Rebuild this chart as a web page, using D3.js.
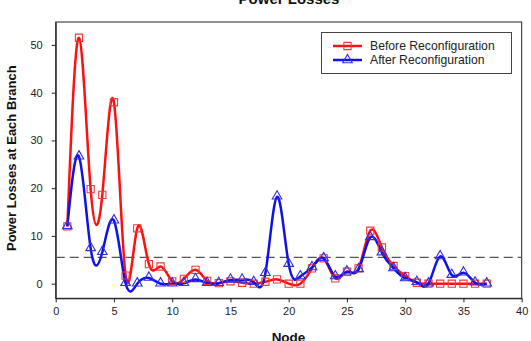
<!DOCTYPE html>
<html><head><meta charset="utf-8">
<script src="https://cdn.jsdelivr.net/npm/d3@7"></script>
<style>body{margin:0;background:#fff}svg{display:block}text{font-family:"Liberation Sans",Arial,sans-serif}</style>
</head><body>
<svg id="c" width="531" height="341"></svg>
<script>
const nodes = d3.range(1, 38);
const before = [12, 51.5, 19.8, 18.6, 38.0, 1.7, 11.6, 4.1, 3.6, 0.5,
  1.0, 2.9, 0.6, 0.1, 0.5, 0.2, 0.0, 0.4, 0.9, 0.0,
  0.0, 3.2, 5.3, 1.1, 2.5, 3.2, 11.1, 7.6, 3.7, 1.6,
  0.2, 0.0, 0.0, 0.0, 0.0, 0.0, 0.0];
const after = [12, 26.6, 7.4, 6.6, 13.2, 0.1, 0.0, 1.2, 0.0, 0.0,
  0.1, 0.9, 0.1, 0.1, 0.8, 0.8, 0.3, 2.2, 18.2, 4.1,
  1.5, 3.4, 5.3, 1.5, 2.5, 3.0, 9.7, 6.5, 3.2, 1.1,
  0.3, 0.0, 5.7, 1.8, 2.3, 0.2, 0.0];
const threshold = 5.5;
const xTicks = [0, 5, 10, 15, 20, 25, 30, 35, 40];
const yTicks = [0, 10, 20, 30, 40, 50];
const seriesNames = ["Before Reconfiguration", "After Reconfiguration"];

const svg = d3.select("#c");
const L = 55.7, R = 521.7, T = 22, B = 298.3;
const x = d3.scaleLinear().domain([0, 40]).range([L, R]);
const y = d3.scaleLinear().domain([-3.06, 54.8]).range([B, T]);

svg.append("defs").append("clipPath").attr("id", "clip")
  .append("rect").attr("x", L).attr("y", T).attr("width", R - L).attr("height", B - T);

svg.append("rect").attr("x", L).attr("y", T).attr("width", R - L).attr("height", B - T)
  .attr("fill", "none").attr("stroke", "#222").attr("stroke-width", 1);

const xa = svg.append("g").attr("transform", `translate(0,${B})`)
  .call(d3.axisBottom(x).tickValues(xTicks).tickSize(4).tickPadding(5).tickSizeOuter(0));
const ya = svg.append("g").attr("transform", `translate(${L},0)`)
  .call(d3.axisLeft(y).tickValues(yTicks).tickSize(4).tickPadding(9).tickSizeOuter(0));
[xa, ya].forEach(a => {
  a.select(".domain").attr("stroke", "#222");
  a.selectAll(".tick line").attr("stroke", "#222");
  a.selectAll(".tick text").attr("font-size", 11).attr("fill", "#222")
   .style("font-family", '"Liberation Sans",Arial,sans-serif');
});

svg.append("line").attr("x1", L).attr("x2", R).attr("y1", y(threshold)).attr("y2", y(threshold))
  .attr("stroke", "#555").attr("stroke-width", 1.3).attr("stroke-dasharray", "9,5");

const g = svg.append("g").attr("clip-path", "url(#clip)");
const line = d3.line().x((d, i) => x(nodes[i])).y(d => y(d)).curve(d3.curveNatural);

const red = "#ff1010", blue = "#1010e8";
g.append("path").datum(before).attr("d", line).attr("fill", "none").attr("stroke", red).attr("stroke-width", 2.5);
g.append("path").datum(after).attr("d", line).attr("fill", "none").attr("stroke", blue).attr("stroke-width", 2.5);

const sq = d3.symbol().type(d3.symbolSquare).size(52);
const tri = d3.symbol().type(d3.symbolTriangle).size(40);
g.selectAll(".sq").data(before).enter().append("path")
  .attr("d", sq).attr("transform", (d, i) => `translate(${x(nodes[i])},${y(d)})`)
  .attr("fill", "none").attr("stroke", "#f03a3a").attr("stroke-width", 1.1);
g.selectAll(".tr").data(after).enter().append("path")
  .attr("d", tri).attr("transform", (d, i) => `translate(${x(nodes[i])},${y(d) - 0.5})`)
  .attr("fill", "none").attr("stroke", "#3030e0").attr("stroke-width", 1.1);

const lg = svg.append("g");
lg.append("rect").attr("x", 321.5).attr("y", 32.5).attr("width", 190).attr("height", 41)
  .attr("fill", "#fff").attr("stroke", "#444").attr("stroke-width", 1);
const rows = [{n: seriesNames[0], c: red, m: sq, mc: "#f03a3a", y: 46},
              {n: seriesNames[1], c: blue, m: tri, mc: "#3030e0", y: 60}];
rows.forEach(r => {
  lg.append("line").attr("x1", 333).attr("x2", 362).attr("y1", r.y).attr("y2", r.y)
    .attr("stroke", r.c).attr("stroke-width", 2.5);
  lg.append("path").attr("d", r.m).attr("transform", `translate(347.5,${r.y})`)
    .attr("fill", "none").attr("stroke", r.mc).attr("stroke-width", 1.1);
  lg.append("text").attr("x", 370).attr("y", r.y + 4.3).attr("font-size", 12.2).attr("fill", "#222").text(r.n);
});

svg.append("text").attr("x", 289).attr("y", 3.5).attr("text-anchor", "middle")
  .attr("font-size", 15).attr("font-weight", "bold").attr("fill", "#111").text("Power Losses");
svg.append("text").attr("x", 288.5).attr("y", 341.5).attr("text-anchor", "middle")
  .attr("font-size", 13.5).attr("font-weight", "bold").attr("fill", "#111").text("Node");
svg.append("text").attr("transform", `translate(15.5,${(T + B) / 2 - 2}) rotate(-90)`).attr("text-anchor", "middle")
  .attr("font-size", 13).attr("font-weight", "bold").attr("fill", "#111").text("Power Losses at Each Branch");
</script>
</body></html>
